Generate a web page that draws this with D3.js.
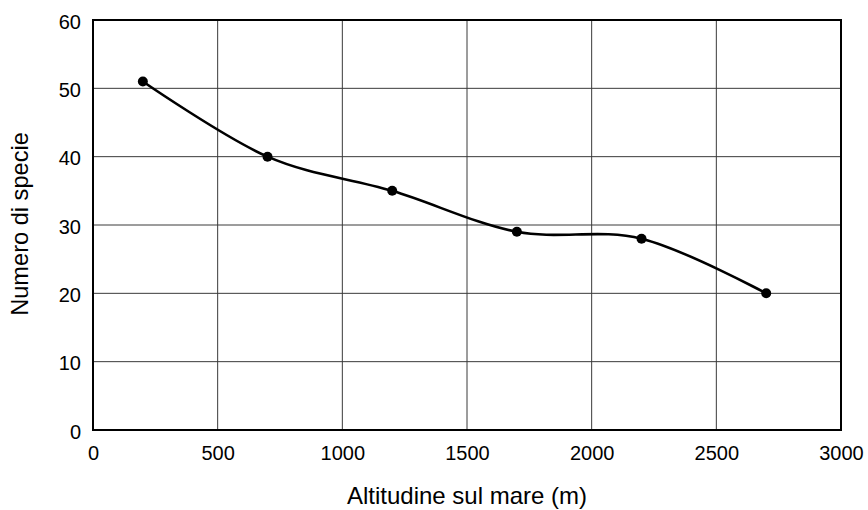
<!DOCTYPE html>
<html><head><meta charset="utf-8">
<script src="https://cdn.jsdelivr.net/npm/d3@7"></script>
<style>body{margin:0;background:#fff}svg{display:block}text{font-family:"Liberation Sans",Arial,sans-serif;fill:#000}</style>
</head><body><svg id="c" width="868" height="510"></svg>
<script>
const altitudes = [200, 700, 1200, 1700, 2200, 2700];
const species = [51, 40, 35, 29, 28, 20];
const xTicks = [0, 500, 1000, 1500, 2000, 2500, 3000];
const yTicks = [0, 10, 20, 30, 40, 50, 60];
const xTitle = "Altitudine sul mare (m)";
const yTitle = "Numero di specie";

const svg = d3.select("#c");
const L = 93, R = 841, T = 20, B = 430;
const x = d3.scaleLinear().domain([0, 3000]).range([L, R]);
const y = d3.scaleLinear().domain([0, 60]).range([B, T]);

const g = svg.append("g");
g.selectAll("line.gx").data(xTicks.slice(1, -1)).join("line")
  .attr("x1", d => x(d)).attr("x2", d => x(d)).attr("y1", T).attr("y2", B)
  .attr("stroke", "#3a3a3a").attr("stroke-width", 1);
g.selectAll("line.gy").data(yTicks.slice(1, -1)).join("line")
  .attr("y1", d => y(d)).attr("y2", d => y(d)).attr("x1", L).attr("x2", R)
  .attr("stroke", "#3a3a3a").attr("stroke-width", 1);
g.append("rect").attr("x", L).attr("y", T).attr("width", R - L).attr("height", B - T)
  .attr("fill", "none").attr("stroke", "#000").attr("stroke-width", 2);

const xAxis = svg.append("g").attr("transform", `translate(0,${B})`)
  .call(d3.axisBottom(x).tickValues(xTicks).tickSize(0).tickPadding(16).tickFormat(d3.format("d")));
const yAxis = svg.append("g").attr("transform", `translate(${L},0)`)
  .call(d3.axisLeft(y).tickValues(yTicks).tickSize(0).tickPadding(12).tickFormat(d3.format("d")));
[xAxis, yAxis].forEach(a => {
  a.select(".domain").remove();
  a.attr("font-size", null).attr("font-family", null);
  a.selectAll("text").attr("font-size", 20).attr("fill", "#000");
});
yAxis.selectAll("text").attr("dy", "0.4em");

svg.append("text").attr("x", 467).attr("y", 504).attr("text-anchor", "middle")
  .attr("font-size", 24).text(xTitle);
svg.append("text").attr("transform", `translate(28,224) rotate(-90)`)
  .attr("text-anchor", "middle").attr("font-size", 23.6).text(yTitle);

const pts = altitudes.map((a, i) => [a, species[i]]);
const line = d3.line().x(d => x(d[0])).y(d => y(d[1])).curve(d3.curveCatmullRom.alpha(0));
svg.append("path").attr("d", line(pts)).attr("fill", "none").attr("stroke", "#000").attr("stroke-width", 2.6);
svg.selectAll("circle").data(pts).join("circle")
  .attr("cx", d => x(d[0])).attr("cy", d => y(d[1])).attr("r", 5).attr("fill", "#000");
</script></body></html>
